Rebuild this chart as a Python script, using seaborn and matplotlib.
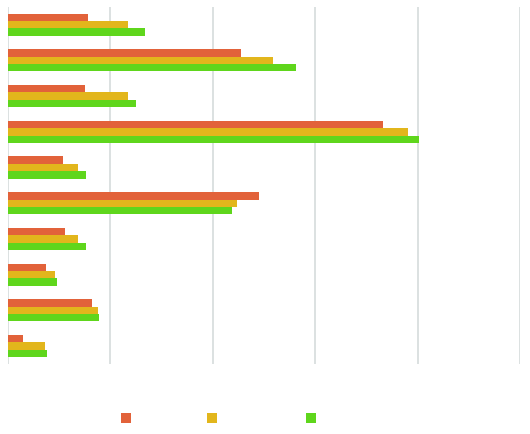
import matplotlib
matplotlib.use("Agg")
import matplotlib.pyplot as plt
from matplotlib.patches import Patch
import seaborn as sns
import pandas as pd

# =========================
# DATA
# =========================
categories = ["c1", "c2", "c3", "c4", "c5", "c6", "c7", "c8", "c9", "c10"]
series_names = ["s1", "s2", "s3"]
s1 = [7.8, 22.8, 7.5, 36.6, 5.4, 24.5, 5.6, 3.7, 8.2, 1.5]
s2 = [11.7, 25.9, 11.7, 39.1, 6.8, 22.4, 6.8, 4.6, 8.8, 3.6]
s3 = [13.4, 28.1, 12.5, 40.1, 7.6, 21.9, 7.6, 4.8, 8.9, 3.8]
colors = ["#e2623a", "#e2b61c", "#5fd61c"]

df = pd.DataFrame({
    "category": categories * 3,
    "series": [series_names[0]] * 10 + [series_names[1]] * 10 + [series_names[2]] * 10,
    "value": s1 + s2 + s3,
})

# =========================
# PLOT
# =========================
sns.set_style("white")
fig = plt.figure(figsize=(5.3, 4.35), dpi=100)
ax = fig.add_axes([0.015, 0.161, 0.966, 0.821])

sns.barplot(
    data=df,
    x="value",
    y="category",
    hue="series",
    orient="h",
    palette=colors,
    width=0.62,
    gap=0,
    saturation=1,
    errorbar=None,
    legend=False,
    linewidth=0,
    edgecolor="none",
    ax=ax,
)

ax.set_xlim(0, 50)
ax.set_xticks([0, 10, 20, 30, 40, 50])
ax.grid(axis="x", color="#d5dcdc", linewidth=1.2)
ax.set_axisbelow(True)
ax.tick_params(left=False, bottom=False, labelleft=False, labelbottom=False)
ax.set_xlabel("")
ax.set_ylabel("")
for side in ax.spines.values():
    side.set_visible(False)

# legend squares only, the reference shows no legend text
handles = [Patch(facecolor=c, edgecolor="none") for c in colors]
fig.legend(
    handles,
    ["", "   ", ""],
    loc="center",
    bbox_to_anchor=(0.423, 0.035),
    ncol=3,
    frameon=False,
    handlelength=0.7,
    handleheight=0.7,
    columnspacing=4.7,
)

fig.savefig("out.png", dpi=100)
